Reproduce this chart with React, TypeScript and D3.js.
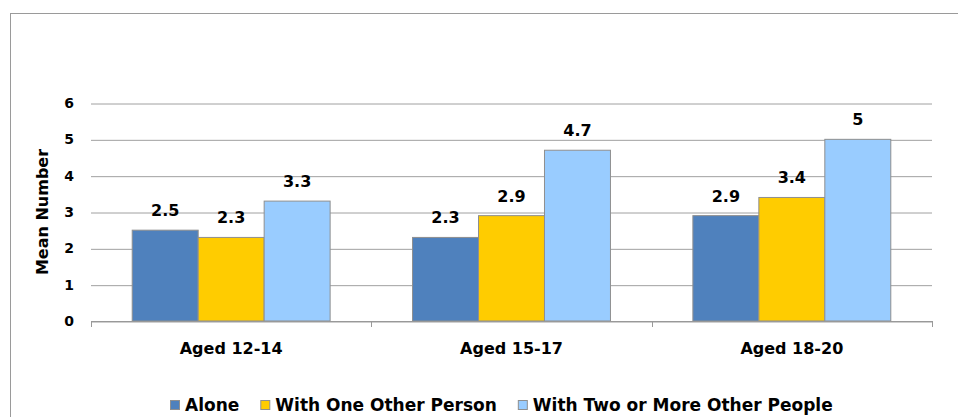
import React, { useEffect, useRef } from 'react';
import * as d3 from 'd3';

const categories = ['Aged 12-14', 'Aged 15-17', 'Aged 18-20'];
const seriesNames = ['Alone', 'With One Other Person', 'With Two or More Other People'];
const alone = [2.5, 2.3, 2.9];
const withOne = [2.3, 2.9, 3.4];
const withTwoOrMore = [3.3, 4.7, 5];
const yTicks = [0, 1, 2, 3, 4, 5, 6];
const colors = ['#4F81BD', '#FFCC00', '#99CCFF'];

const W = 958;
const H = 417;
const FONT = '"DejaVu Sans", Verdana, sans-serif';

export default function App() {
  const ref = useRef<SVGSVGElement>(null);

  useEffect(() => {
    const svg = d3.select(ref.current);
    svg.selectAll('*').remove();

    const left = 91, right = 932, top = 103, bottom = 321;
    const seriesValues = [alone, withOne, withTwoOrMore];

    const x0 = d3.scaleBand<string>()
      .domain(categories)
      .range([left, right])
      .paddingInner(0.294)
      .paddingOuter(0.147);
    const x1 = d3.scaleBand<string>()
      .domain(seriesNames)
      .range([0, x0.bandwidth()]);
    const y = d3.scaleLinear().domain([0, 6]).range([bottom, top]);

    // outer frame, runs off the right and bottom edge
    svg.append('rect')
      .attr('x', 10.5).attr('y', 13.5)
      .attr('width', 1000).attr('height', 500)
      .attr('fill', 'none').attr('stroke', '#9a9a9a');

    // y axis with gridlines
    const yAxis = svg.append('g')
      .attr('transform', `translate(${left},0)`)
      .call(d3.axisLeft(y)
        .tickValues(yTicks)
        .tickFormat(d3.format('d'))
        .tickSize(-(right - left))
        .tickPadding(17));
    yAxis.select('.domain').remove();
    yAxis.selectAll('.tick line')
      .attr('stroke', '#a0a0a0')
      .attr('transform', 'translate(0,0.5)');
    yAxis.selectAll('.tick text')
      .attr('font-family', FONT)
      .attr('font-weight', 'bold')
      .attr('font-size', 14)
      .attr('fill', '#000');

    svg.append('text')
      .attr('transform', `translate(48,${(top + bottom) / 2}) rotate(-90)`)
      .attr('text-anchor', 'middle')
      .attr('font-family', FONT)
      .attr('font-weight', 'bold')
      .attr('font-size', 16)
      .text('Mean Number');

    // bars
    const groups = svg.append('g').selectAll('g')
      .data(categories)
      .enter().append('g')
      .attr('transform', (d) => `translate(${x0(d)},0)`);

    groups.selectAll('rect')
      .data((d, i) => seriesNames.map((s, j) => ({ s, v: seriesValues[j][i], j })))
      .enter().append('rect')
      .attr('x', (d) => x1(d.s)!)
      .attr('y', (d) => y(d.v))
      .attr('width', x1.bandwidth())
      .attr('height', (d) => y(0) - y(d.v))
      .attr('fill', (d) => colors[d.j])
      .attr('stroke', '#8f8f8f')
      .attr('stroke-width', 1);

    groups.selectAll('text')
      .data((d, i) => seriesNames.map((s, j) => ({ s, v: seriesValues[j][i] })))
      .enter().append('text')
      .attr('x', (d) => x1(d.s)! + x1.bandwidth() / 2)
      .attr('y', (d) => y(d.v) - 14)
      .attr('text-anchor', 'middle')
      .attr('font-family', FONT)
      .attr('font-weight', 'bold')
      .attr('font-size', 16)
      .text((d) => String(d.v));

    // x axis line and boundary ticks
    const xAxis = svg.append('g').attr('stroke', '#999');
    xAxis.append('line')
      .attr('x1', left).attr('x2', right)
      .attr('y1', bottom + 0.5).attr('y2', bottom + 0.5);
    d3.range(categories.length + 1).forEach((k) => {
      const xx = Math.round(left + k * x0.step()) + 0.5;
      xAxis.append('line')
        .attr('x1', xx).attr('x2', xx)
        .attr('y1', bottom).attr('y2', bottom + 6);
    });

    svg.append('g').selectAll('text')
      .data(categories)
      .enter().append('text')
      .attr('x', (d) => x0(d)! + x0.bandwidth() / 2)
      .attr('y', 354)
      .attr('text-anchor', 'middle')
      .attr('font-family', FONT)
      .attr('font-weight', 'bold')
      .attr('font-size', 16)
      .text((d) => d);

    // legend, laid out by measured text widths
    const legend = svg.append('g');
    let lx = 170;
    seriesNames.forEach((name, j) => {
      legend.append('rect')
        .attr('x', lx + 0.5).attr('y', 400.5)
        .attr('width', 9).attr('height', 9)
        .attr('fill', colors[j])
        .attr('stroke', '#8f8f8f');
      const t = legend.append('text')
        .attr('x', lx + 15)
        .attr('y', 411)
        .attr('font-family', FONT)
        .attr('font-weight', 'bold')
        .attr('font-size', 17)
        .text(name);
      const len = (t.node() as SVGTextElement).getComputedTextLength();
      lx += 15 + len + 21;
    });
  }, []);

  return (
    <svg
      ref={ref}
      width={W}
      height={H}
      style={{ position: 'absolute', left: 0, top: 0, display: 'block', background: '#fff' }}
    />
  );
}
